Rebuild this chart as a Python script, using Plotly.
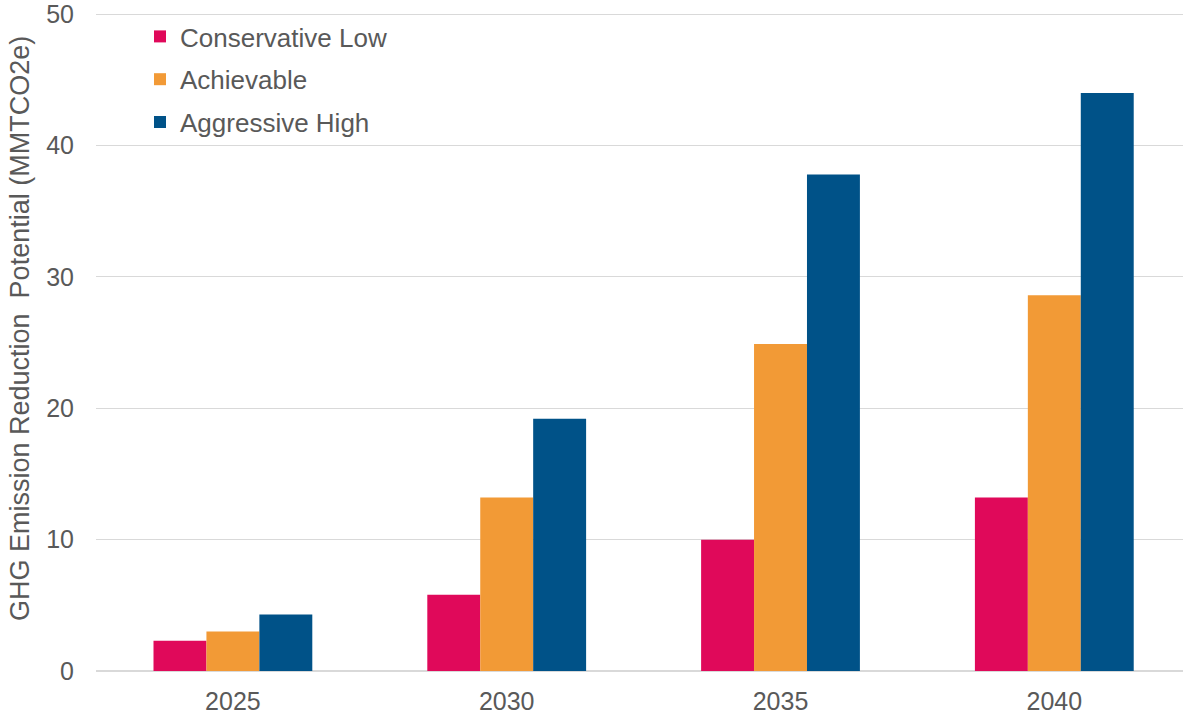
import plotly.graph_objects as go

categories = ["2025", "2030", "2035", "2040"]
conservative_low = [2.3, 5.8, 10.0, 13.2]
achievable = [3.0, 13.2, 24.9, 28.6]
aggressive_high = [4.3, 19.2, 37.8, 44.0]
y_ticks = [0, 10, 20, 30, 40, 50]

series = [
    ("Conservative Low", conservative_low, "#E0095A"),
    ("Achievable", achievable, "#F29A36"),
    ("Aggressive High", aggressive_high, "#005288"),
]

fig = go.Figure()
for name, vals, color in series:
    fig.add_trace(go.Bar(x=categories, y=vals, name=name, marker_color=color,
                         marker_line_width=0, legendgroup=name))

W, H = 1183, 719
L, R, T, B = 96, 0, 14, 48
plot_w = W - L - R
plot_h = H - T - B

fig.update_layout(
    width=W, height=H,
    margin=dict(l=L, r=R, t=T, b=B, autoexpand=False),
    paper_bgcolor="white", plot_bgcolor="white",
    barmode="group", bargap=0.42, bargroupgap=0,
    font=dict(family="Liberation Sans, Arial, sans-serif", color="#595959", size=25),
    legend=dict(x=(140 - L) / plot_w, y=1.0 + 1 / plot_h, xanchor="left", yanchor="top",
                font=dict(size=26, color="#595959"), bgcolor="rgba(0,0,0,0)",
                tracegroupgap=6, traceorder="grouped"),
    xaxis=dict(range=[-0.5, 3.47], showgrid=False, zeroline=False, automargin=False,
               showline=False, ticks="outside", ticklen=8, tickcolor="rgba(0,0,0,0)",
               tickfont=dict(size=25, color="#595959")),
    yaxis=dict(range=[0, 50.02], tickvals=y_ticks, showgrid=True,
               gridcolor="#D9D9D9", gridwidth=1.3, zeroline=True,
               zerolinecolor="#D9D9D9", zerolinewidth=1.5,
               automargin=False, ticks="outside", ticklen=16, tickcolor="rgba(0,0,0,0)",
               tickfont=dict(size=25, color="#595959")),
    annotations=[dict(text="GHG Emission Reduction  Potential (MMTCO2e)",
                      xref="paper", yref="paper", x=(20 - L) / plot_w,
                      y=(671 - 329) / plot_h,
                      xanchor="center", yanchor="middle", textangle=-90,
                      showarrow=False, font=dict(size=27, color="#595959"))],
)

# top gridline (plotly omits it at the plot edge)
fig.add_shape(type="line", xref="paper", yref="y", x0=0, x1=1,
              y0=max(y_ticks), y1=max(y_ticks),
              line=dict(color="#D9D9D9", width=1.3), layer="below")

fig.write_html("out.html", config={"displayModeBar": False},
               post_script="document.body.style.margin='0';")
